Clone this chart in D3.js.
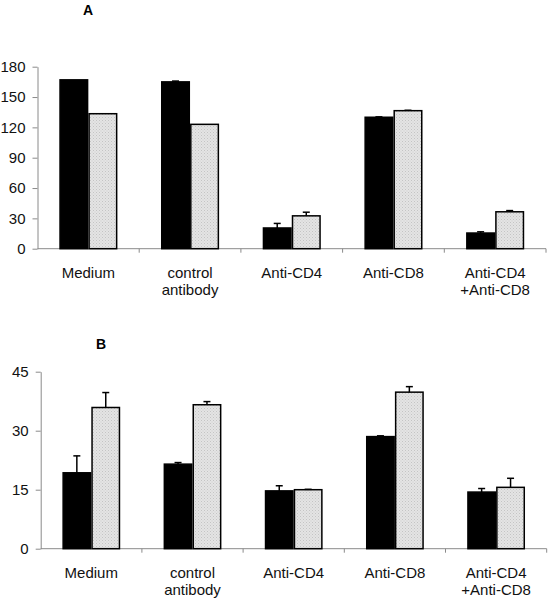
<!DOCTYPE html>
<html><head><meta charset="utf-8">
<script src="https://cdn.jsdelivr.net/npm/d3@7"></script>
<style>html,body{margin:0;padding:0;background:#fff;}svg{display:block;}</style>
</head><body>
<script>
const categories = ["Medium", "control antibody", "Anti-CD4", "Anti-CD8", "Anti-CD4 +Anti-CD8"];
const categoryLines = [["Medium"], ["control", "antibody"], ["Anti-CD4"], ["Anti-CD8"], ["Anti-CD4", "+Anti-CD8"]];
const seriesNames = ["black", "grey"];

const panelA_black = [167, 165, 20.5, 130, 15.5];
const panelA_blackErr = [0, 0.8, 4.5, 0.4, 1.2];
const panelA_grey = [133.5, 123, 32.5, 136.5, 36.5];
const panelA_greyErr = [0, 0, 3.6, 0.4, 1.2];
const panelA_ticks = [0, 30, 60, 90, 120, 150, 180];

const panelB_black = [19.3, 21.5, 14.7, 28.5, 14.4];
const panelB_blackErr = [4.3, 0.4, 1.3, 0.2, 0.9];
const panelB_grey = [35.9, 36.6, 15.0, 39.8, 15.6];
const panelB_greyErr = [3.8, 0.8, 0.1, 1.4, 2.3];
const panelB_ticks = [0, 15, 30, 45];

const W = 548, H = 598;
const svg = d3.select("body").append("svg").attr("width", W).attr("height", H);

const defs = svg.append("defs");
const pat = defs.append("pattern").attr("id", "dots").attr("patternUnits", "userSpaceOnUse")
  .attr("width", 3).attr("height", 3);
pat.append("rect").attr("width", 3).attr("height", 3).attr("fill", "#e4e4e4");
pat.append("rect").attr("x", 0).attr("y", 0).attr("width", 1).attr("height", 1).attr("fill", "#c4c4c4");
pat.append("rect").attr("x", 1.5).attr("y", 1.5).attr("width", 1).attr("height", 1).attr("fill", "#cdcdcd");

const FONT = "'Liberation Sans', Arial, Helvetica, sans-serif";

function panel(cfg) {
  const g = svg.append("g");
  const x0 = d3.scaleBand().domain(categories).range([cfg.left, cfg.right]).padding(0);
  const x1 = d3.scaleBand().domain(seriesNames).range([0, x0.bandwidth()]).paddingInner(0).paddingOuter(0.75);
  const y = d3.scaleLinear().domain([0, cfg.max]).range([cfg.bottom, cfg.top]);

  // y axis
  const yAxis = d3.axisLeft(y).tickValues(cfg.ticks).tickSize(5).tickPadding(7).tickSizeOuter(0);
  const ya = g.append("g").attr("transform", `translate(${cfg.left},0)`).call(yAxis);
  ya.select(".domain").attr("stroke", "#8a8a8a");
  ya.selectAll(".tick line").attr("stroke", "#8a8a8a");
  ya.selectAll(".tick text").attr("font-family", FONT).attr("font-size", 15).attr("fill", "#111");

  // x axis
  const xa = g.append("g").attr("transform", `translate(0,${cfg.bottom})`);
  xa.append("line").attr("x1", cfg.left).attr("x2", cfg.right).attr("stroke", "#8a8a8a");
  const bounds = categories.map(c => x0(c) + x0.bandwidth());
  xa.selectAll("line.t").data(bounds).enter().append("line").attr("class", "t")
    .attr("x1", d => d).attr("x2", d => d).attr("y1", 0).attr("y2", 4).attr("stroke", "#8a8a8a");

  // bars
  const data = [];
  categories.forEach((c, i) => {
    data.push({c, s: "black", v: cfg.black[i], e: cfg.blackErr[i]});
    data.push({c, s: "grey", v: cfg.grey[i], e: cfg.greyErr[i]});
  });
  const bx = d => x0(d.c) + x1(d.s);
  g.selectAll("rect.bar").data(data).enter().append("rect").attr("class", "bar")
    .attr("x", d => bx(d) + 0.75)
    .attr("y", d => y(d.v))
    .attr("width", x1.bandwidth() - 1.5)
    .attr("height", d => y(0) - y(d.v))
    .attr("fill", d => d.s === "black" ? "#000" : "url(#dots)")
    .attr("stroke", "#000").attr("stroke-width", 1.5);

  // error bars
  const eb = g.selectAll("g.err").data(data.filter(d => d.e > 0)).enter().append("g").attr("class", "err");
  eb.append("line")
    .attr("x1", d => bx(d) + x1.bandwidth() / 2).attr("x2", d => bx(d) + x1.bandwidth() / 2)
    .attr("y1", d => y(d.v)).attr("y2", d => y(d.v + d.e))
    .attr("stroke", "#000").attr("stroke-width", 1.5);
  eb.append("line")
    .attr("x1", d => bx(d) + x1.bandwidth() / 2 - 3.5).attr("x2", d => bx(d) + x1.bandwidth() / 2 + 3.5)
    .attr("y1", d => y(d.v + d.e)).attr("y2", d => y(d.v + d.e))
    .attr("stroke", "#000").attr("stroke-width", 1.5);

  // category labels
  categories.forEach((c, i) => {
    const t = g.append("text").attr("text-anchor", "middle")
      .attr("font-family", FONT).attr("font-size", 15).attr("fill", "#111");
    categoryLines[i].forEach((ln, k) => {
      t.append("tspan").attr("x", x0(c) + x0.bandwidth() / 2)
        .attr("y", cfg.bottom + 29 + k * 17.5).text(ln);
    });
  });

  // title
  g.append("text").attr("x", cfg.titleX).attr("y", cfg.titleY).attr("text-anchor", "middle")
    .attr("font-family", FONT).attr("font-weight", "bold").attr("font-size", 14).attr("fill", "#000")
    .text(cfg.title);
}

panel({left: 37.5, right: 546, top: 66.7, bottom: 248.7, max: 180, ticks: panelA_ticks,
  black: panelA_black, blackErr: panelA_blackErr, grey: panelA_grey, greyErr: panelA_greyErr,
  title: "A", titleX: 88, titleY: 15});
panel({left: 40.7, right: 546.7, top: 371.7, bottom: 548.7, max: 45, ticks: panelB_ticks,
  black: panelB_black, blackErr: panelB_blackErr, grey: panelB_grey, greyErr: panelB_greyErr,
  title: "B", titleX: 101, titleY: 349});
</script>
</body></html>
